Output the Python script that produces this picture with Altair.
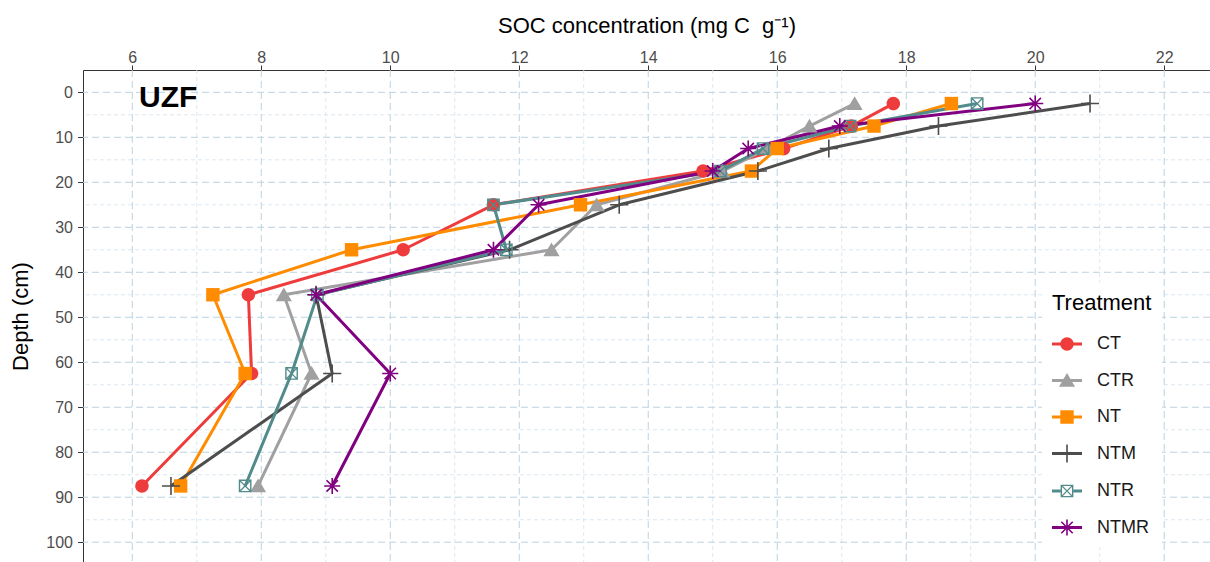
import math
import altair as alt
import pandas as pd

# ---------------- data ----------------
depths = [2.5, 7.5, 12.5, 17.5, 25, 35, 45, 62.5, 87.5]
treatments = ["CT", "CTR", "NT", "NTM", "NTR", "NTMR"]
soc_CT = [17.8, 17.15, 16.1, 14.85, 11.6, 10.2, 7.8, 7.85, 6.15]
soc_CTR = [17.2, 16.5, 15.85, 15.15, 13.2, 12.5, 8.35, 8.78, 7.95]
soc_NT = [18.7, 17.5, 16.0, 15.6, 12.95, 9.4, 7.25, 7.75, 6.75]
soc_NTM = [20.85, 18.5, 16.8, 15.7, 13.55, 11.85, 8.85, 9.1, 6.6]
soc_NTR = [19.1, 17.13, 15.78, 15.12, 11.6, 11.8, 8.87, 8.47, 7.75]
soc_NTMR = [20.0, 16.97, 15.55, 15.0, 12.3, 11.6, 8.85, 10.0, 9.1]

x_major = [6, 8, 10, 12, 14, 16, 18, 20, 22]
x_minor = [7, 9, 11, 13, 15, 17, 19, 21]
y_major = [0, 10, 20, 30, 40, 50, 60, 70, 80, 90, 100]
y_minor = [5, 15, 25, 35, 45, 55, 65, 75, 85, 95]

colors = ["#EE3B3B", "#A0A0A0", "#FF8C00", "#4D4D4D", "#528B8B", "#800080"]

series = [soc_CT, soc_CTR, soc_NT, soc_NTM, soc_NTR, soc_NTMR]
rows = []
for t, vals in zip(treatments, series):
    for d, v in zip(depths, vals):
        rows.append({"Treatment": t, "Depth": d, "SOC": v})
df = pd.DataFrame(rows)

# ---------------- marker shapes (filled paths) ----------------
def rect(x0, y0, x1, y1):
    return [(x0, y0), (x1, y0), (x1, y1), (x0, y1)]

def diag(a, t):
    o = t / math.sqrt(2)
    return [(-a + o, -a - o), (a + o, a - o), (a - o, a + o), (-a - o, -a + o)]

def anti(a, t):
    o = t / math.sqrt(2)
    A = (-a + o, a + o); B = (a + o, -a + o); C = (a - o, -a - o); D = (-a - o, a - o)
    return [A, D, C, B]

def circ(r, n=32):
    return [(r * math.cos(2 * math.pi * k / n), r * math.sin(2 * math.pi * k / n)) for k in range(n)]

def path(polys, k=1.0):
    out = []
    for p in polys:
        out.append("M" + "L".join(f"{x*k:.4f},{y*k:.4f}" for x, y in p) + "Z")
    return "".join(out)

markers = {
    "CT": [circ(1.0)],
    "CTR": [[(0, -1.1), (1.2, 0.95), (-1.2, 0.95)]],
    "NT": [rect(-1, -1, 1, 1)],
    "NTM": [rect(-1.35, -0.12, 1.35, 0.12), rect(-0.12, -1.35, 0.12, 1.35)],
    "NTR": [rect(-0.95, -0.95, 0.95, 0.95), list(reversed(rect(-0.74, -0.74, 0.74, 0.74))),
            diag(0.8, 0.1), anti(0.8, 0.1)],
    "NTMR": [rect(-1.2, -0.12, 1.2, 0.12), rect(-0.12, -1.2, 0.12, 1.2),
             diag(0.85, 0.12), anti(0.85, 0.12)],
}
PT_SIZE = 180
LG_SIZE = 900
k = (math.sqrt(PT_SIZE) / 2) / (math.sqrt(LG_SIZE) / 2)

plot_shapes = [path(markers[t]) for t in treatments]
legend_shapes = []
for t in treatments:
    if t == "NTR":
        line = [rect(-1, -0.1, -0.43, 0.1), rect(0.43, -0.1, 1, 0.1)]
    else:
        line = [rect(-1, -0.1, 1, 0.1)]
    legend_shapes.append(path(line) + path(markers[t], k))

# ---------------- scales ----------------
xs = alt.Scale(domain=[5.236, 22.71], nice=False, zero=False)
ys = alt.Scale(domain=[-4.96, 104.4], nice=False, zero=False, reverse=True)

x_axis = alt.Axis(orient="top", values=x_major, format="d",
                  title="SOC concentration (mg C\u00a0 g\u207b\u00b9)",
                  titleFontSize=22, titleFontWeight="normal", titleColor="black",
                  titleY=-38, titleBaseline="alphabetic",
                  labelFontSize=16, labelColor="#4D4D4D", labelPadding=0,
                  tickSize=5, tickColor="#333333", domainColor="#333333",
                  grid=False)
y_axis = alt.Axis(orient="left", values=y_major, format="d", title="Depth (cm)",
                  titleFontSize=22, titleFontWeight="normal", titleColor="black",
                  titleX=-63, titleY=246, titleBaseline="middle", titleAngle=270,
                  labelFontSize=16, labelColor="#4D4D4D", labelPadding=5,
                  tickSize=5.5, tickColor="#333333", domainColor="#333333",
                  grid=False)

W, H = 1127, 492

# ---------------- grid ----------------
gx_major = alt.Chart(pd.DataFrame({"v": x_major})).mark_rule(
    color="#BCD2E0", strokeWidth=1, strokeDash=[7, 4]).encode(x=alt.X("v:Q", scale=xs, axis=x_axis))
gx_minor = alt.Chart(pd.DataFrame({"v": x_minor})).mark_rule(
    color="#D3E2EC", strokeWidth=0.8, strokeDash=[4, 3]).encode(x=alt.X("v:Q", scale=xs))
gy_major = alt.Chart(pd.DataFrame({"v": y_major})).mark_rule(
    color="#BCD2E0", strokeWidth=1, strokeDash=[7, 4]).encode(y=alt.Y("v:Q", scale=ys, axis=y_axis))
gy_minor = alt.Chart(pd.DataFrame({"v": y_minor})).mark_rule(
    color="#D3E2EC", strokeWidth=0.8, strokeDash=[4, 3]).encode(y=alt.Y("v:Q", scale=ys))

base = alt.Chart(df)
X = alt.X("SOC:Q", scale=xs)
Y = alt.Y("Depth:Q", scale=ys)

lines = base.mark_line(strokeWidth=3, strokeJoin="round").encode(
    x=X, y=Y,
    color=alt.Color("Treatment:N", scale=alt.Scale(domain=treatments, range=colors), legend=None),
    order=alt.Order("Depth:Q"),
)

points = base.mark_point(filled=True, opacity=1, size=PT_SIZE, strokeWidth=0).encode(
    x=X, y=Y,
    color=alt.Color("Treatment:N", scale=alt.Scale(domain=treatments, range=colors), legend=None),
    shape=alt.Shape("Treatment:N", scale=alt.Scale(domain=treatments, range=plot_shapes), legend=None),
)

leg = dict(title="Treatment", orient="none", legendX=959, legendY=213, fillColor="white",
           padding=10, titleFontSize=22, titleFontWeight="normal", titleColor="black",
           titleFont="Liberation Sans", labelFont="Liberation Sans",
           labelFontSize=18, labelColor="#1A1A1A", labelOffset=15, rowPadding=12.5,
           titlePadding=14, symbolStrokeWidth=0, symbolSize=LG_SIZE, symbolOpacity=1)

legend_layer = base.transform_filter("false").mark_point(filled=True, opacity=1, size=LG_SIZE,
                                                          strokeWidth=0).encode(
    x=X, y=Y,
    color=alt.Color("Treatment:N", scale=alt.Scale(domain=treatments, range=colors),
                    legend=alt.Legend(**leg)),
    shape=alt.Shape("Treatment:N", scale=alt.Scale(domain=treatments, range=legend_shapes),
                    legend=alt.Legend(**leg)),
)

label = alt.Chart(pd.DataFrame({"t": ["UZF"]})).mark_text(
    font="Liberation Sans", fontSize=30, fontWeight="bold", color="black",
    align="left", baseline="alphabetic").encode(
    text="t:N", x=alt.value(56), y=alt.value(36.7))

chart = alt.layer(gx_minor, gy_minor, gx_major, gy_major, lines, points, label, legend_layer).resolve_scale(
    color="independent", shape="independent"
).properties(
    width=W, height=H,
    autosize=alt.AutoSizeParams(type="none"),
    padding={"left": 83, "top": 70, "right": 0, "bottom": 0},
    background="white",
).configure_view(stroke=None).configure(font="Liberation Sans")

chart.save("out.html", embed_options={"renderer": "svg", "actions": False})
